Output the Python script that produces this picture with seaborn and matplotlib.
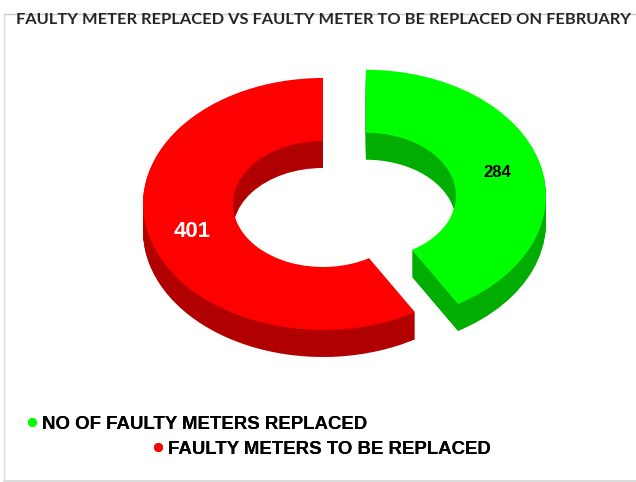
import matplotlib
matplotlib.use("Agg")
import matplotlib.pyplot as plt
import seaborn as sns
from matplotlib.lines import Line2D

sns.set_theme(style="white")
plt.rcParams["font.family"] = ["Liberation Sans", "DejaVu Sans"]

# data
labels = ["NO OF FAULTY METERS REPLACED", "FAULTY METERS TO BE REPLACED"]
values = [284, 401]
top_colors = sns.color_palette(["#00ff00", "#ff0000"])
side_colors = sns.color_palette(["#00ad00", "#b00000"])
title = "FAULTY METER REPLACED VS FAULTY METER TO BE REPLACED ON FEBRUARY"

W, H = 636, 482
CX, CY = 323, 204      # ring centre in pixels
RX, RY = 180, 126      # outer radii in pixels
DEPTH = 27

fig = plt.figure(figsize=(W / 100, H / 100), dpi=100)
ax = fig.add_axes([0, 0, 1, 1])


def to_data(px, py):
    return (px - CX) / RX, (CY - py) / RY


def ring(colors, shift):
    ax.pie(
        values,
        colors=colors,
        startangle=90,
        counterclock=False,
        explode=[0.2475, 0],
        center=(0, -shift / RY),
        radius=1,
        wedgeprops={"width": 0.5, "linewidth": 0},
    )


# stack of dark rings gives the extruded side, bright ring goes on top
for shift in range(DEPTH, 0, -1):
    ring(side_colors, shift)
ring(top_colors, 0)

ax.set_aspect("auto")
ax.set_xlim(-CX / RX, (W - CX) / RX)
ax.set_ylim((CY - H) / RY, CY / RY)

ax.text(*to_data(497, 173), str(values[0]), color="black", fontsize=12, fontweight="bold",
        ha="center", va="center")
ax.text(*to_data(192, 232), str(values[1]), color="white", fontsize=16, fontweight="bold",
        ha="center", va="center")

# thin outer frame
frame = "#dcdcdc"
fig.add_artist(Line2D([4 / W, 4 / W], [1 - 480 / H, 1 - 14 / H], color=frame, lw=1))
fig.add_artist(Line2D([4 / W, 1], [1 - 14 / H, 1 - 14 / H], color="#c8c8c8", lw=1))
fig.add_artist(Line2D([4 / W, 1], [1 - 480.5 / H, 1 - 480.5 / H], color=frame, lw=1.5))

fig.text(323 / W, 1 - 20 / H, title, family="Lato", fontweight="bold", fontsize=11.8,
         color="#262626", ha="center", va="center", zorder=5)

# two legend rows, staggered as in the original
for i, (px, py) in enumerate([(23, 424), (149, 449)]):
    handle = Line2D([], [], marker="o", linestyle="none", color=top_colors[i], markersize=6.5,
                    markeredgewidth=0)
    fig.add_artist(fig.legend(
        [handle], [labels[i]],
        loc="center left",
        bbox_to_anchor=(px / W, 1 - py / H),
        frameon=False,
        borderpad=0,
        borderaxespad=0,
        handlelength=1,
        handletextpad=0.04,
        prop={"weight": "bold", "size": 13.4},
        labelcolor="black",
    ))

fig.savefig("out.png", dpi=100)
